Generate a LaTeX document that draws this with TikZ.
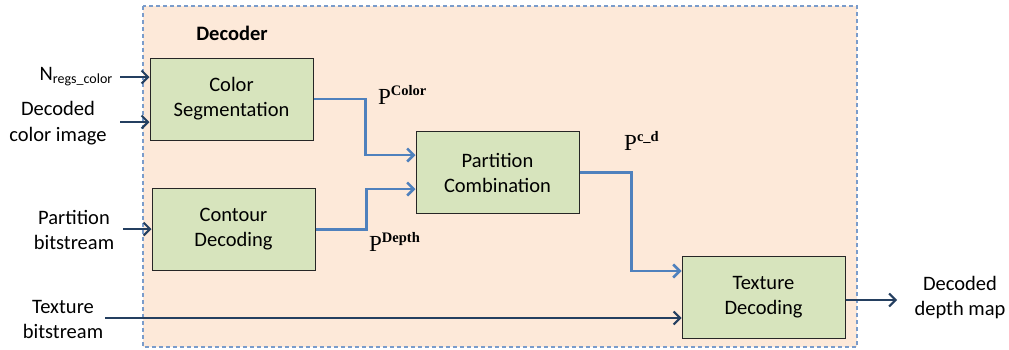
\documentclass[tikz,border=0pt]{standalone}
\usepackage[no-math]{fontspec}
\setmainfont{Carlito}
\newfontfamily\pfont{Liberation Serif}
\usetikzlibrary{arrows.meta}
\definecolor{panelfill}{HTML}{FDE9D9}
\definecolor{panelline}{HTML}{7A9CCB}
\definecolor{boxfill}{HTML}{D7E4BD}
\definecolor{flowblue}{HTML}{4F81BD}
\definecolor{inkblue}{HTML}{243F60}
\newcommand{\partsym}[1]{P\raisebox{9pt}{\fontsize{14.5}{16}\selectfont\bfseries #1}}
\tikzset{
  blockbox/.style={draw=black!85, line width=1pt, fill=boxfill, minimum width=163pt,
    minimum height=82pt, align=center, inner sep=0pt,
    font=\fontsize{20.5}{25}\selectfont},
  plain/.style={align=center, inner sep=0pt, font=\fontsize{20.5}{25.5}\selectfont},
  plabel/.style={inner sep=0pt, font=\pfont\fontsize{23}{26}\selectfont},
  inarrow/.style={draw=inkblue, line width=2pt, -{Straight Barb[length=6.5pt,width=13pt,line width=2pt]}},
  flow/.style={draw=flowblue, line width=2.5pt, -{Straight Barb[length=6.5pt,width=13pt,line width=2.5pt]}},
}
\begin{document}
\begin{tikzpicture}[x=1pt,y=-1pt]
\useasboundingbox (0,0) rectangle (1009,349);
\fill[white] (0,0) rectangle (1009,349);
% decoder panel
\draw[panelline, fill=panelfill, line width=1.2pt, dash pattern=on 4pt off 3pt]
  (143,6) rectangle (857,347);
\node[font=\fontsize{20.5}{25}\selectfont\bfseries, inner sep=0pt] (title) at (232,33) {Decoder};

% processing blocks
\node[blockbox] (cs) at (231.5,99) {Color\\Segmentation};
\node[blockbox] (cd) at (233.5,229.5) {Contour\\Decoding};
\node[blockbox] (pc) at (497.5,172.5) {Partition\\Combination};
\node[blockbox] (td) at (763.5,297.5) {Texture\\Decoding};

% external inputs and output
\node[plain, anchor=east] (nreg) at (113,77) {N\textsubscript{\fontsize{14}{16}\selectfont regs\_color}};
\node[plain] (dci) at (58,123) {Decoded\\color image};
\node[plain] (pbs) at (74,230) {Partition\\bitstream};
\node[plain] (tbs) at (63,319.5) {Texture\\bitstream};
\node[plain] (ddm) at (960,297.5) {Decoded\\depth map};

\coordinate (nstart) at (120,77);
\coordinate (dstart) at (120,122);
\coordinate (pstart) at (123,229);
\coordinate (tstart) at (105,318);
\coordinate (oend) at (897,300);

\draw[inarrow] (nstart) -- ([yshift=22pt]cs.west);
\draw[inarrow] (dstart) -- ([yshift=-23pt]cs.west);
\draw[inarrow] (pstart) -- ([yshift=0.5pt]cd.west);
\draw[inarrow] (tstart) -- ([yshift=-20.5pt]td.west);
\draw[inarrow] ([yshift=-2.5pt]td.east) -- (oend);

% partition flow
\draw[flow] (cs.east) -- ++(52,0) |- ([yshift=17.5pt]pc.west);
\draw[flow] (cd.east) -- ++(51,0) |- ([yshift=-16.5pt]pc.west);
\draw[flow] (pc.east) -- ++(52,0) |- ([yshift=26.5pt]td.west);

\node[plabel, anchor=base west] (pcolor) at (378,104) {\partsym{Color}};
\node[plabel, anchor=base west] (pdepth) at (369,251) {\partsym{Depth}};
\node[plabel, anchor=base west] (pcd) at (624,150) {\partsym{c\_d}};
\end{tikzpicture}
\end{document}
